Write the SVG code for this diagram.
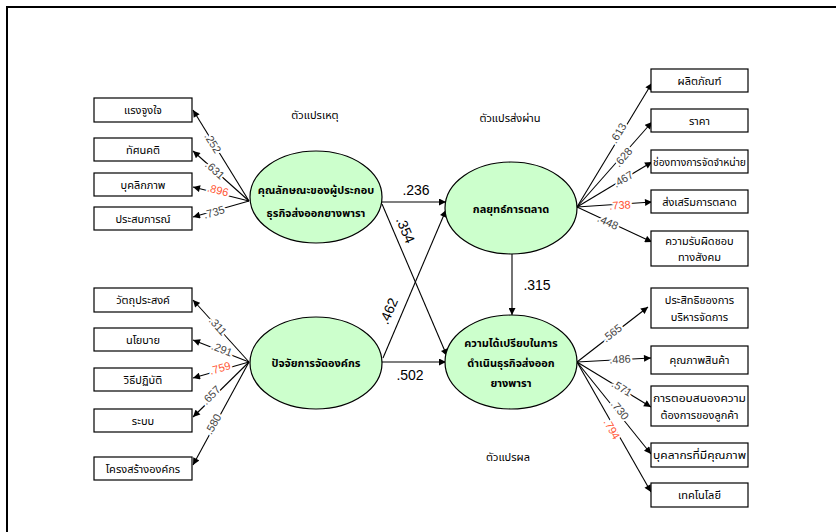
<svg xmlns="http://www.w3.org/2000/svg" width="836" height="532" viewBox="0 0 836 532">
<style>
.box{fill:#fff;stroke:#000;stroke-width:1.2}
.ell{fill:#ccffcc;stroke:#000;stroke-width:1.2}
.bt{font-family:"Noto Sans Thai","Noto Sans","DejaVu Sans",sans-serif;font-size:11px;fill:#000;text-anchor:middle}
.et{font-family:"Noto Sans Thai","Noto Sans","DejaVu Sans",sans-serif;font-size:11px;font-weight:bold;fill:#000;text-anchor:middle}
.cap{font-family:"Noto Sans Thai","Noto Sans","DejaVu Sans",sans-serif;font-size:11px;fill:#000;text-anchor:middle}
.ln{stroke:#000;stroke-width:1.1;fill:none;marker-end:url(#ah)}
.lb{font-family:"Liberation Sans",Arial,sans-serif;font-size:11px;fill:#444;text-anchor:middle;dominant-baseline:central;stroke:#fff;stroke-width:4;paint-order:stroke;stroke-linejoin:round}
.red{fill:#ff5533}
.pl{font-family:"Liberation Sans",Arial,sans-serif;font-size:14px;fill:#000;text-anchor:middle}
</style>
<defs>
<marker id="ah" viewBox="0 0 10 10" refX="10" refY="5" markerWidth="8" markerHeight="7" markerUnits="userSpaceOnUse" orient="auto">
<path d="M0,0 L10,5 L0,10 z" fill="#000"/>
</marker>
</defs>
<rect x="0" y="0" width="836" height="532" fill="#fff"/>
<rect x="7" y="7" width="840" height="540" fill="none" stroke="#000" stroke-width="2"/>

<g id="captions">
<text class="cap" x="315" y="119">ตัวแปรเหตุ</text>
<text class="cap" x="510" y="122">ตัวแปรส่งผ่าน</text>
<text class="cap" x="508" y="461">ตัวแปรผล</text>
</g>

<g id="connectors">
<line class="ln" x1="249" y1="201" x2="193" y2="110"/>
<line class="ln" x1="249" y1="201" x2="193" y2="151"/>
<line class="ln" x1="249" y1="201" x2="193" y2="187"/>
<line class="ln" x1="249" y1="201" x2="193" y2="217"/>
<line class="ln" x1="249" y1="362" x2="193" y2="300"/>
<line class="ln" x1="249" y1="362" x2="193" y2="340"/>
<line class="ln" x1="249" y1="362" x2="193" y2="378"/>
<line class="ln" x1="249" y1="362" x2="193" y2="417"/>
<line class="ln" x1="249" y1="362" x2="193" y2="465"/>
<line class="ln" x1="577" y1="207" x2="652" y2="83"/>
<line class="ln" x1="577" y1="207" x2="652" y2="122"/>
<line class="ln" x1="577" y1="207" x2="652" y2="162"/>
<line class="ln" x1="577" y1="207" x2="652" y2="202"/>
<line class="ln" x1="577" y1="207" x2="652" y2="242"/>
<line class="ln" x1="577" y1="362" x2="648" y2="307"/>
<line class="ln" x1="577" y1="362" x2="651" y2="358"/>
<line class="ln" x1="577" y1="362" x2="651" y2="407"/>
<line class="ln" x1="577" y1="362" x2="651" y2="454"/>
<line class="ln" x1="577" y1="362" x2="651" y2="492"/>
<line class="ln" x1="382" y1="202" x2="446" y2="202"/>
<line class="ln" x1="382" y1="204" x2="447" y2="356"/>
<line class="ln" x1="383" y1="358" x2="446" y2="210"/>
<line class="ln" x1="382" y1="362" x2="446" y2="362"/>
<line class="ln" x1="512" y1="254" x2="512" y2="315"/>

<text class="lb" transform="translate(213,143) rotate(58)">.252</text>
<text class="lb" transform="translate(215,170) rotate(42)">.631</text>
<text class="lb red" transform="translate(218,190) rotate(14)">.896</text>
<text class="lb" transform="translate(214,212) rotate(-16)">.735</text>
<text class="lb" transform="translate(218,326) rotate(48)">.311</text>
<text class="lb" transform="translate(222,349) rotate(21)">.291</text>
<text class="lb red" transform="translate(220,368) rotate(-16)">.759</text>
<text class="lb" transform="translate(211,395) rotate(-45)">.657</text>
<text class="lb" transform="translate(213,424) rotate(-61)">.580</text>
<text class="lb" transform="translate(618,133) rotate(-59)">.613</text>
<text class="lb" transform="translate(623,157) rotate(-49)">.628</text>
<text class="lb" transform="translate(623,179) rotate(-31)">.467</text>
<text class="lb red" transform="translate(620,205) rotate(-4)">.738</text>
<text class="lb" transform="translate(608,222) rotate(25)">.448</text>
<text class="lb" transform="translate(612,333) rotate(-38)">.565</text>
<text class="lb" transform="translate(620,359) rotate(-3)">.486</text>
<text class="lb" transform="translate(622,388) rotate(31)">.571</text>
<text class="lb" transform="translate(620,410) rotate(51)">.730</text>
<text class="lb red" transform="translate(612,429) rotate(60)">.794</text>

<text class="pl" x="416" y="195">.236</text>
<text class="pl" transform="translate(401,232) rotate(67)">.354</text>
<text class="pl" transform="translate(393,313) rotate(-67)">.462</text>
<text class="pl" x="410" y="380">.502</text>
<text class="pl" x="537" y="290">.315</text>
</g>

<g id="n-motivation"><rect class="box" x="94" y="98" width="98" height="24"/><text class="bt" x="143" y="114">แรงจูงใจ</text></g>
<g id="n-attitude"><rect class="box" x="94" y="138" width="98" height="23"/><text class="bt" x="143" y="154">ทัศนคติ</text></g>
<g id="n-personality"><rect class="box" x="94" y="173" width="98" height="23"/><text class="bt" x="143" y="189">บุคลิกภาพ</text></g>
<g id="n-experience"><rect class="box" x="94" y="207" width="98" height="23"/><text class="bt" x="143" y="223">ประสบการณ์</text></g>

<g id="n-objective"><rect class="box" x="94" y="288" width="98" height="24"/><text class="bt" x="143" y="304">วัตถุประสงค์</text></g>
<g id="n-policy"><rect class="box" x="94" y="328" width="98" height="23"/><text class="bt" x="143" y="344">นโยบาย</text></g>
<g id="n-practice"><rect class="box" x="94" y="368" width="98" height="23"/><text class="bt" x="143" y="384">วิธีปฏิบัติ</text></g>
<g id="n-system"><rect class="box" x="94" y="409" width="98" height="23"/><text class="bt" x="143" y="425">ระบบ</text></g>
<g id="n-structure"><rect class="box" x="94" y="457" width="98" height="23"/><text class="bt" x="143" y="473">โครงสร้างองค์กร</text></g>

<g id="n-entrepreneur"><ellipse class="ell" cx="316" cy="197" rx="66" ry="46"/><text class="et" x="316" y="194">คุณลักษณะของผู้ประกอบ</text><text class="et" x="316" y="217">ธุรกิจส่งออกยางพารา</text></g>
<g id="n-organization"><ellipse class="ell" cx="316" cy="363" rx="66" ry="46"/><text class="et" x="316" y="367">ปัจจัยการจัดองค์กร</text></g>
<g id="n-strategy"><ellipse class="ell" cx="511" cy="208" rx="66" ry="46"/><text class="et" x="511" y="213">กลยุทธ์การตลาด</text></g>
<g id="n-advantage"><ellipse class="ell" cx="511" cy="362" rx="66" ry="47"/><text class="et" x="511" y="347">ความได้เปรียบในการ</text><text class="et" x="511" y="367">ดำเนินธุรกิจส่งออก</text><text class="et" x="511" y="387">ยางพารา</text></g>

<g id="n-product"><rect class="box" x="651" y="69" width="97" height="23"/><text class="bt" x="699.5" y="85">ผลิตภัณฑ์</text></g>
<g id="n-price"><rect class="box" x="651" y="109" width="97" height="23"/><text class="bt" x="699.5" y="125">ราคา</text></g>
<g id="n-channel"><rect class="box" x="651" y="150" width="97" height="23"/><text class="bt" x="699.5" y="166" textLength="93" lengthAdjust="spacingAndGlyphs">ช่องทางการจัดจำหน่าย</text></g>
<g id="n-promotion"><rect class="box" x="651" y="190" width="97" height="23"/><text class="bt" x="699.5" y="206">ส่งเสริมการตลาด</text></g>
<g id="n-csr"><rect class="box" x="651" y="231" width="97" height="35"/><text class="bt" x="699.5" y="245">ความรับผิดชอบ</text><text class="bt" x="699.5" y="261">ทางสังคม</text></g>

<g id="n-efficiency"><rect class="box" x="651" y="288" width="97" height="40"/><text class="bt" x="699.5" y="304">ประสิทธิของการ</text><text class="bt" x="699.5" y="321">บริหารจัดการ</text></g>
<g id="n-quality"><rect class="box" x="651" y="346" width="97" height="28"/><text class="bt" x="699.5" y="364">คุณภาพสินค้า</text></g>
<g id="n-response"><rect class="box" x="651" y="386" width="97" height="40"/><text class="bt" x="699.5" y="402" textLength="93" lengthAdjust="spacingAndGlyphs">การตอบสนองความ</text><text class="bt" x="699.5" y="419">ต้องการของลูกค้า</text></g>
<g id="n-personnel"><rect class="box" x="651" y="443" width="97" height="24"/><text class="bt" x="699.5" y="459" textLength="93" lengthAdjust="spacingAndGlyphs">บุคลากรที่มีคุณภาพ</text></g>
<g id="n-technology"><rect class="box" x="651" y="483" width="97" height="24"/><text class="bt" x="699.5" y="499">เทคโนโลยี</text></g>
</svg>
